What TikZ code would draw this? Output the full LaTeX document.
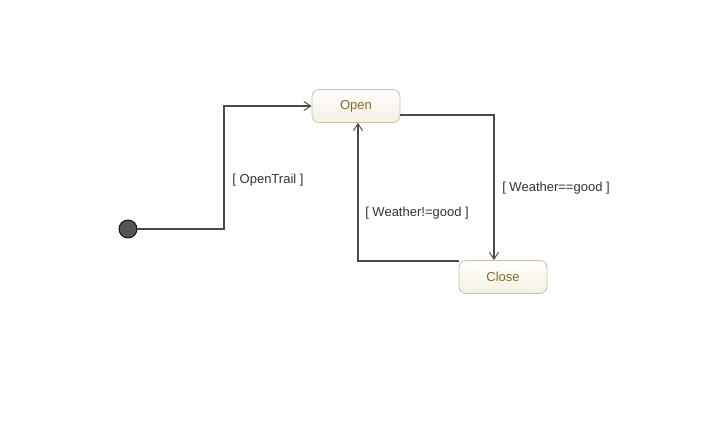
\documentclass[tikz,border=0pt]{standalone}
\usepackage{fontspec}
\setmainfont{Liberation Sans}
\usetikzlibrary{arrows.meta}
\definecolor{linegray}{HTML}{4A4A4A}
\definecolor{guardgray}{HTML}{333333}
\definecolor{stateline}{HTML}{CDBF9F}
\definecolor{statetop}{HTML}{FFFFFF}
\definecolor{statebottom}{HTML}{F5F0E3}
\definecolor{statetext}{HTML}{8A6A28}

\begin{document}
\begin{tikzpicture}[x=1pt, y=-1pt,
		state/.style={draw=stateline, line width=0.8pt, rounded corners=7pt,
			top color=statetop, bottom color=statebottom, text=statetext,
			minimum width=88pt, minimum height=33pt, font=\fontsize{13}{15}\selectfont},
		start/.style={circle, draw=black, fill=black!67, line width=0.8pt, minimum size=18pt, inner sep=0pt},
		trans/.style={draw=linegray, line width=1.1pt, -{Straight Barb[length=7pt, width=9pt, line width=0.9pt]}},
		guard/.style={text=guardgray, font=\fontsize{13}{15}\selectfont}]
		%%%%% START %%%%%
		
		\useasboundingbox (0, 0) rectangle (715, 435);
		
		\node[start] (init) at (128, 229) {};
		\node[state] (open) at (356, 106) {Open};
		\node[state] (close) at (503, 277) {Close};
		
		\coordinate (bend) at (224, 229);
		
		\draw[trans] (init) -- (bend) |- (open);
		\draw[trans] ([yshift=-9pt]open.east) -| ([xshift=-9pt]close.north);
		\draw[trans] ([yshift=16pt]close.west) -| ([xshift=2pt]open.south);
		
		\node[guard] (g1) at (268, 180) {[ OpenTrail ]};
		\node[guard] (g2) at (556, 188) {[ Weather==good ]};
		\node[guard] (g3) at (417, 213) {[ Weather!=good ]};
		
		%%%%% END %%%%%
	\end{tikzpicture}
\end{document}
